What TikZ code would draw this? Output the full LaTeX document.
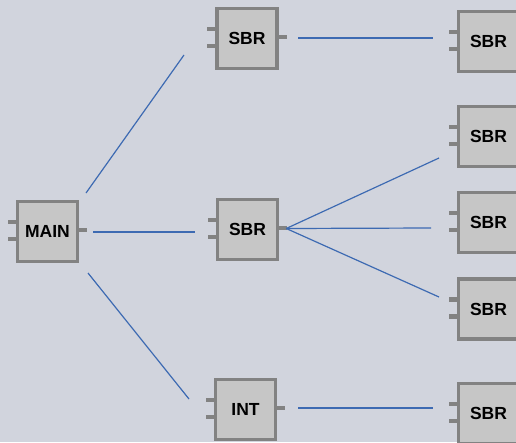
\documentclass[tikz,border=0pt]{standalone}
\usepackage{fontspec}
\setmainfont{Liberation Sans}
\usepackage{tikz}
\usepackage{xcolor}
\usetikzlibrary{positioning}
\definecolor{bgcol}{HTML}{D1D4DD}
\definecolor{boxfill}{HTML}{C6C6C6}
\definecolor{boxline}{HTML}{828282}
\definecolor{wirecol}{HTML}{3D6AB2}
\begin{document}
\begin{tikzpicture}[x=1pt,y=-1pt]
\tikzstyle{blk}=[draw=boxline, fill=boxfill, line width=3.5pt, minimum width=60pt, minimum height=60pt, inner sep=0pt, font=\bfseries\fontsize{17.5}{20}\selectfont]
\tikzstyle{port}=[draw=boxline, line width=4.5pt]
\tikzstyle{wire}=[draw=wirecol, line width=1.2pt]
\fill [bgcol] (0,0) rectangle (516,442);
\useasboundingbox (0,0) rectangle (516,442);
\node [blk] (main) at (47.5,231.5) {MAIN};
\node [blk] (sbrA) at (247,38.5) {SBR};
\node [blk] (sbrB) at (247.5,229.5) {SBR};
\node [blk] (intA) at (245.5,409.5) {INT};
\node [blk] (sbrC) at (488.5,41.5) {SBR};
\node [blk] (sbrD) at (488.5,136.5) {SBR};
\node [blk] (sbrE) at (488.5,222.5) {SBR};
\node [blk] (sbrF) at (488.5,309) {SBR};
\node [blk] (sbrG) at (488.5,413.5) {SBR};
\draw [port] ([shift={(0,-9.5)}]main.west) -- +(-8,0) ([shift={(0,7.5)}]main.west) -- +(-8,0);
\draw [port] ([shift={(0,-1.5)}]main.east) -- +(8,0);
\draw [port] ([shift={(0,-9.5)}]sbrA.west) -- +(-8,0) ([shift={(0,7.5)}]sbrA.west) -- +(-8,0);
\draw [port] ([shift={(0,-1.5)}]sbrA.east) -- +(8,0);
\draw [port] ([shift={(0,-9.5)}]sbrB.west) -- +(-8,0) ([shift={(0,7.5)}]sbrB.west) -- +(-8,0);
\draw [port] ([shift={(0,-1.5)}]sbrB.east) -- +(8,0);
\draw [port] ([shift={(0,-9.5)}]intA.west) -- +(-8,0) ([shift={(0,7.5)}]intA.west) -- +(-8,0);
\draw [port] ([shift={(0,-1.5)}]intA.east) -- +(8,0);
\draw [port] ([shift={(0,-9.5)}]sbrC.west) -- +(-8,0) ([shift={(0,7.5)}]sbrC.west) -- +(-8,0);
\draw [port] ([shift={(0,-9.5)}]sbrD.west) -- +(-8,0) ([shift={(0,7.5)}]sbrD.west) -- +(-8,0);
\draw [port] ([shift={(0,-9.5)}]sbrE.west) -- +(-8,0) ([shift={(0,7.5)}]sbrE.west) -- +(-8,0);
\draw [port] ([shift={(0,-9.5)}]sbrF.west) -- +(-8,0) ([shift={(0,7.5)}]sbrF.west) -- +(-8,0);
\draw [port] ([shift={(0,-9.5)}]sbrG.west) -- +(-8,0) ([shift={(0,7.5)}]sbrG.west) -- +(-8,0);
\draw [wire] ([shift={(6.75,-6.75)}]main.north east) -- ([shift={(-31.25,-15.25)}]sbrA.south west);
\draw [wire] ([shift={(13.75,0.5)}]main.east) -- ([shift={(-20.75,2.5)}]sbrB.west);
\draw [wire] ([shift={(8.75,9.75)}]main.south east) -- ([shift={(-24.75,-10.5)}]intA.west);
\draw [wire] ([shift={(19.25,-0.5)}]sbrA.east) -- ([shift={(-23.75,-3.5)}]sbrC.west);
\draw [wire] ([shift={(7,-1)}]sbrB.east) -- ([shift={(-17.75,21.5)}]sbrD.west);
\draw [wire] ([shift={(7,-1)}]sbrB.east) -- ([shift={(-25.75,5.5)}]sbrE.west);
\draw [wire] ([shift={(7,-1)}]sbrB.east) -- ([shift={(-17.75,-12)}]sbrF.west);
\draw [wire] ([shift={(20.75,-1.5)}]intA.east) -- ([shift={(-23.75,-5.5)}]sbrG.west);
\end{tikzpicture}
\end{document}
